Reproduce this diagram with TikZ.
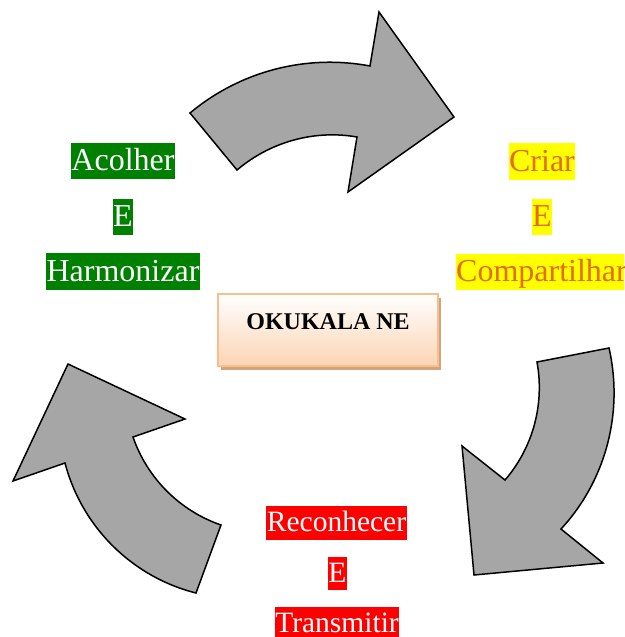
\documentclass[tikz,border=0pt]{standalone}
\usepackage{fontspec}
\setmainfont{Liberation Serif}
\definecolor{arrowgray}{RGB}{166,166,166}
\definecolor{lblgreen}{RGB}{0,128,0}
\definecolor{lblyellow}{RGB}{255,255,0}
\definecolor{lblorange}{RGB}{228,108,10}
\definecolor{lblred}{RGB}{255,0,0}
\definecolor{boxborder}{RGB}{248,190,140}
\definecolor{boxpeach}{RGB}{251,212,180}
\definecolor{boxshadow}{RGB}{208,165,125}
\tikzset{
  cyclearrow/.style={fill=arrowgray, draw=black, line width=1.5pt, line join=miter},
  biglbl/.style={inner xsep=0.6pt, inner ysep=0pt, text height=28pt, text depth=8.5pt,
     font=\fontsize{32}{38}\selectfont},
  smalllbl/.style={inner xsep=0.6pt, inner ysep=0pt, text height=25.5pt, text depth=8pt,
     font=\fontsize{29.5}{35}\selectfont},
  greenlbl/.style={biglbl, fill=lblgreen, text=white},
  yellowlbl/.style={biglbl, fill=lblyellow, text=lblorange},
  redlbl/.style={smalllbl, fill=lblred, text=white},
}
\begin{document}
\begin{tikzpicture}[x=1pt,y=-1pt]
\useasboundingbox (0,0) rectangle (624,637);
\clip (0,0) rectangle (624,637);

% top arrow
\path[cyclearrow] (190,113) .. controls (239.9,71.3) and (306,53.9) .. (370,66)
  -- (379,12) -- (454,117) -- (348,192) -- (357,137)
  .. controls (314.2,129.5) and (270.2,141.9) .. (237,170) -- cycle;

% right arrow
\path[cyclearrow] (609,348) .. controls (623.7,412.4) and (605.9,480.5) .. (561,529)
  -- (603,563) -- (474,575) -- (462,446) -- (505,480)
  .. controls (533,447.5) and (544.7,404.2) .. (537,362) -- cycle;

% left arrow
\path[cyclearrow] (196,593) .. controls (131.9,576.8) and (81.8,526.9) .. (65,463)
  -- (13,481) -- (68,364) -- (185,419) -- (133,437)
  .. controls (147.3,478.3) and (179.7,510.7) .. (221,525) -- cycle;

% centre box
\fill[boxshadow] (221,298) rectangle (441,370);
\shade[top color=white, bottom color=boxpeach, draw=boxborder, line width=2pt]
  (218,294) rectangle (438,366);
\node[anchor=base, font=\fontsize{24}{28}\selectfont\bfseries, inner sep=0pt]
  (title) at (328,329) {OKUKALA NE};

% left labels
\node[greenlbl] (acolher) at (123,161) {Acolher};
\node[greenlbl] (le) at (123,217) {E};
\node[greenlbl] (harmonizar) at (123,271.5) {Harmonizar};

% right labels
\node[yellowlbl] (criar) at (542,161.5) {Criar};
\node[yellowlbl] (re) at (542,217) {E};
\node[yellowlbl] (compartilhar) at (541.5,272) {Compartilhar};

% bottom labels
\node[redlbl] (reconhecer) at (336.5,523) {Reconhecer};
\node[redlbl] (be) at (337.5,573.5) {E};
\node[redlbl] (transmitir) at (337,624) {Transmitir};
\end{tikzpicture}
\end{document}
